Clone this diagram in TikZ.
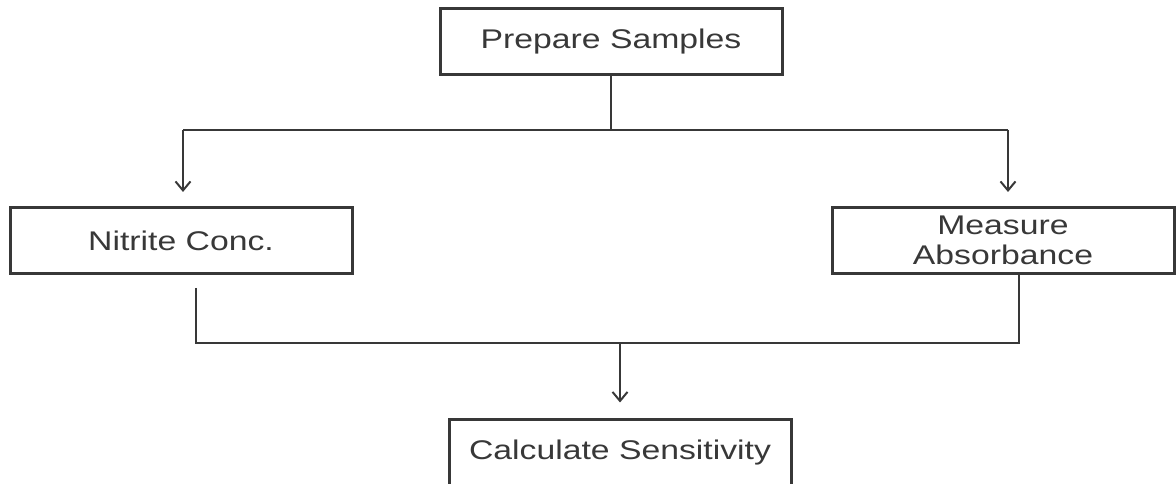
\documentclass[tikz,border=0pt]{standalone}
\usepackage{fontspec}
\setmainfont[FakeStretch=1.25]{Liberation Sans}
\usetikzlibrary{arrows.meta}
\definecolor{ink}{gray}{0.22}

\begin{document}
\begin{tikzpicture}[x=1pt,y=1pt,
    stepbox/.style={draw=ink,line width=3pt,text=ink,minimum width=342pt,minimum height=66pt,
        align=center,inner sep=0pt,font=\fontsize{27}{30}\selectfont},
    link/.style={draw=ink,line width=2pt},
    arr/.style={link,-{Straight Barb[length=9pt,width=15pt,line width=2pt]}}]
            \useasboundingbox (0,0) rectangle (1176,484);
            \clip (0,0) rectangle (1176,484);
            % boxes
            \node[stepbox] (prep) at (611,442) {Prepare Samples};
            \node[stepbox] (nitrite) at (181,243.5) {Nitrite Conc.};
            \node[stepbox] (measure) at (1003,243.5) {Measure\\Absorbance};
            \node[stepbox] (calc) at (620,31) {Calculate Sensitivity};
            % junctions
            \coordinate (fork) at (611,354);
            \coordinate (forkL) at (183,354);
            \coordinate (forkR) at (1008,354);
            \coordinate (joinL) at (196,141);
            \coordinate (joinR) at (1019,141);
            \coordinate (join) at (620,141);
            % top split
            \draw[link] (prep.south)--(fork);
            \draw[link] (forkL)--(forkR);
            \draw[arr,shorten >=14pt] (forkL)--(forkL |- nitrite.north);
            \draw[arr,shorten >=14pt] (forkR)--(forkR |- measure.north);
            % bottom merge
            \draw[link,shorten <=13pt] (joinL |- nitrite.south)--(joinL)--(joinR)--(joinR |- measure.south);
            \draw[arr,shorten >=16pt] (join)--(calc.north);
        \end{tikzpicture}
\end{document}
